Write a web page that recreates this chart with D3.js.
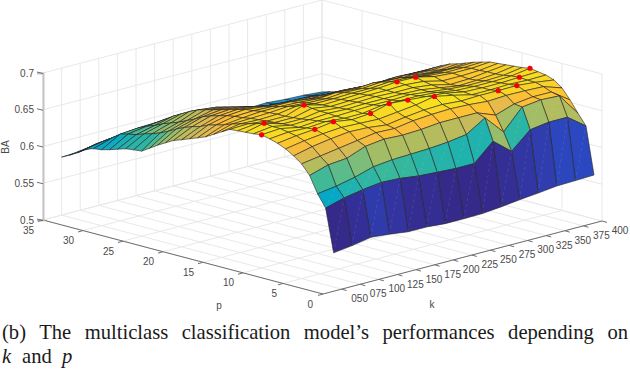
<!DOCTYPE html>
<html>
<head>
<meta charset="utf-8">
<script src="https://cdnjs.cloudflare.com/ajax/libs/d3/7.8.5/d3.min.js"></script>
<style>
  html, body { margin: 0; padding: 0; background: #fff; }
  svg { display: block; }
  text { font-family: "Liberation Sans", Arial, sans-serif; font-size: 10px; fill: #4a4a4a; }
  .caption { font-family: "Liberation Serif", "Times New Roman", serif; font-size: 20.6px; fill: #1a1a1a; }
  .grid { stroke: #e8e8e8; stroke-width: 1; fill: none; }
  .axisline { stroke: #6e6e6e; stroke-width: 1; }
</style>
</head>
<body>
<script>
const kValues = [50, 75, 100, 125, 150, 175, 200, 225, 250, 275, 300, 325, 350, 375, 400];
const pValues = d3.range(1, 36);
const kLabels = ["050", "075", "100", "125", "150", "175", "200", "225", "250", "275", "300", "325", "350", "375", "400"];
const pTicks = [0, 5, 10, 15, 20, 25, 30, 35];
const zTicks = [0.5, 0.55, 0.6, 0.65, 0.7];

// BA per row p=1..35, one value per k
const ba = [
  [.5465,.5497,.5544,.5521,.5486,.5486,.5465,.5465,.547,.5494,.5526,.555,.558,.5587,.5597],
  [.6045,.6117,.6163,.6196,.6184,.6151,.6135,.6121,.6122,.6358,.6155,.6382,.642,.642,.6235],
  [.6211,.6248,.6303,.638,.6408,.6418,.6429,.645,.6488,.6648,.639,.6663,.6695,.6682,.638],
  [.6431,.6509,.6533,.6629,.6661,.6648,.666,.6686,.6687,.6687,.659,.6676,.6707,.6705,.6532],
  [.6561,.66,.664,.668,.672,.671,.675,.677,.678,.677,.6749,.6763,.676,.675,.6667],
  [.6641,.67,.674,.677,.676,.673,.677,.68,.681,.679,.68,.6799,.6803,.678,.6746],
  [.6707,.675,.678,.68,.679,.678,.681,.684,.689,.684,.678,.678,.679,.678,.6785],
  [.6754,.679,.6812,.6849,.681,.6829,.6897,.6879,.686,.684,.679,.678,.678,.6792,.6801],
  [.6786,.681,.68,.682,.68,.68,.684,.684,.684,.682,.678,.677,.677,.678,.6819],
  [.6812,.683,.678,.68,.68,.681,.682,.682,.683,.68,.677,.675,.675,.676,.68],
  [.6797,.683,.678,.679,.681,.68,.681,.681,.681,.68,.676,.672,.673,.675,.679],
  [.6789,.6846,.677,.677,.681,.679,.68,.681,.68,.68,.677,.671,.672,.675,.678],
  [.6781,.681,.676,.676,.682,.678,.679,.68,.68,.681,.679,.673,.673,.674,.677],
  [.677,.678,.675,.675,.6837,.677,.678,.679,.68,.6822,.6818,.676,.674,.674,.676],
  [.6709,.675,.674,.675,.679,.676,.676,.677,.677,.679,.678,.674,.672,.672,.673],
  [.6646,.672,.673,.674,.676,.674,.673,.675,.674,.676,.675,.67,.669,.669,.67],
  [.6584,.668,.671,.673,.673,.672,.67,.672,.67,.672,.67,.666,.665,.664,.666],
  [.6541,.665,.67,.671,.67,.67,.667,.665,.663,.665,.665,.662,.661,.66,.662],
  [.65,.662,.668,.67,.667,.665,.661,.662,.66,.66,.658,.656,.658,.657,.659],
  [.6457,.657,.665,.667,.664,.66,.656,.658,.655,.655,.653,.651,.654,.653,.654],
  [.6419,.654,.662,.664,.661,.656,.652,.653,.65,.65,.648,.646,.649,.648,.648],
  [.6359,.65,.658,.661,.658,.652,.648,.648,.645,.644,.642,.64,.643,.642,.642],
  [.6297,.645,.652,.658,.655,.648,.644,.642,.639,.637,.634,.632,.636,.635,.636],
  [.6227,.639,.647,.655,.652,.645,.64,.636,.633,.629,.626,.624,.63,.63,.63],
  [.6159,.634,.642,.652,.649,.642,.636,.63,.626,.622,.619,.616,.62,.622,.62],
  [.6148,.63,.638,.647,.644,.638,.632,.625,.621,.617,.614,.611,.614,.616,.614],
  [.6133,.627,.634,.641,.639,.634,.627,.62,.616,.612,.61,.607,.609,.61,.609],
  [.6098,.623,.629,.635,.633,.63,.622,.615,.611,.608,.606,.603,.605,.605,.604],
  [.6063,.621,.625,.628,.627,.626,.617,.61,.606,.603,.602,.6,.6,.6,.6],
  [.6034,.618,.62,.621,.62,.622,.612,.606,.6,.598,.597,.596,.596,.596,.595],
  [.6019,.61,.613,.614,.613,.614,.605,.6,.595,.593,.592,.592,.591,.591,.59],
  [.5984,.603,.606,.607,.606,.606,.598,.594,.59,.588,.587,.587,.586,.586,.585],
  [.5907,.596,.599,.6,.599,.598,.592,.589,.586,.584,.583,.583,.582,.582,.581],
  [.5845,.588,.59,.591,.592,.591,.587,.584,.582,.581,.581,.581,.579,.579,.578],
  [.579,.58,.581,.583,.585,.584,.583,.581,.58,.579,.579,.58,.578,.577,.575]
];

// best p for each k (red dots)
const bestP = [10, 12, 8, 8, 14, 8, 8, 8, 7, 14, 14, 6, 6, 8, 9];

const colorStops = [.5465, .552, .56, .57, .58, .6045, .6117, .62, .628, .64, .655, .665, .672, .678, .684, .69];
const colorValues = ["#35298a", "#33349f", "#2a4cc8", "#1d78d8", "#1495d2", "#07a8c6", "#1fb2ae", "#3ab89a", "#72bd80", "#abbd60", "#d8ba55", "#fbbc3a", "#fcc82f", "#f8da22", "#f8e818", "#f8f40f"];

const width = 630, height = 370;
const svg = d3.select("body").append("svg").attr("width", width).attr("height", height);

// the view is orthographic, so each data axis adds its own screen offset
const kToX = d3.scaleLinear().domain([25, 400]).range([323, 602]);
const kToY = d3.scaleLinear().domain([25, 400]).range([294, 221]);
const pToX = d3.scaleLinear().domain([0, 35]).range([0, -280]);
const pToY = d3.scaleLinear().domain([0, 35]).range([0, -74]);
const zToY = d3.scaleLinear().domain([0.5, 0.7]).range([0, -147]);
const color = d3.scaleLinear().domain(colorStops).range(colorValues).clamp(true);

const px = (p, k) => kToX(k) + pToX(p);
const py = (p, k, z) => kToY(k) + pToY(p) + zToY(z);
const line = d3.line();

function seg(a, b) {
  return line([[px(a[0], a[1]), py(a[0], a[1], a[2])], [px(b[0], b[1]), py(b[0], b[1], b[2])]]);
}

// grid on the floor and the two back walls
const gridG = svg.append("g");
const kGrid = [25].concat(kValues);
kGrid.forEach(k => {
  gridG.append("path").attr("class", "grid").attr("d", seg([0, k, .5], [35, k, .5]));
  gridG.append("path").attr("class", "grid").attr("d", seg([35, k, .5], [35, k, .7]));
});
pTicks.forEach(p => {
  gridG.append("path").attr("class", "grid").attr("d", seg([p, 25, .5], [p, 400, .5]));
  gridG.append("path").attr("class", "grid").attr("d", seg([p, 400, .5], [p, 400, .7]));
});
zTicks.forEach(z => {
  gridG.append("path").attr("class", "grid").attr("d", seg([35, 25, z], [35, 400, z]));
  gridG.append("path").attr("class", "grid").attr("d", seg([35, 400, z], [0, 400, z]));
});

// axes
svg.append("path").attr("class", "axisline").attr("d", seg([35, 25, .5], [0, 25, .5]));
svg.append("path").attr("class", "axisline").attr("d", seg([0, 25, .5], [0, 400, .5]));

const zAxisScale = d3.scaleLinear().domain([0.5, 0.7]).range([py(35, 25, .5), py(35, 25, .7)]);
const zAxis = d3.axisLeft(zAxisScale).tickValues(zTicks).tickFormat(d => d3.format("")(+d.toFixed(2))).tickSize(6).tickPadding(3);
const zAxisG = svg.append("g").attr("transform", `translate(${px(35, 25)},0)`).call(zAxis);
zAxisG.select(".domain").attr("stroke", "#c4c4c4").attr("stroke-width", 2);
zAxisG.selectAll(".tick line").attr("stroke", "#6e6e6e").attr("y2", -1.5);
zAxisG.attr("font-size", null).attr("font-family", null);
zAxisG.selectAll(".tick text").attr("fill", null);

const pTickG = svg.append("g").selectAll("g").data(pTicks).enter().append("g")
    .attr("transform", d => `translate(${px(d, 25)},${py(d, 25, .5)})`);
pTickG.append("line").attr("class", "axisline").attr("x2", -5).attr("y2", 1.4);
pTickG.append("text").attr("text-anchor", "end").attr("x", d => d === 0 ? -10 : (d === 5 ? -6 : -9)).attr("y", 13.5).text(d => d);

const kTickG = svg.append("g").selectAll("g").data(kValues).enter().append("g")
    .attr("transform", d => `translate(${px(0, d)},${py(0, d, .5)})`);
kTickG.append("line").attr("class", "axisline").attr("x2", 5).attr("y2", 1.4);
kTickG.append("text").attr("text-anchor", "middle").attr("x", 18).attr("y", 13).text((d, i) => kLabels[i]);

svg.append("text").attr("transform", "translate(9,147) rotate(-90)").attr("text-anchor", "middle").text("BA");
svg.append("text").attr("x", 219).attr("y", 309).attr("text-anchor", "middle").text("p");
svg.append("text").attr("x", 432).attr("y", 308).attr("text-anchor", "middle").text("k");

// surface, far faces first
const faces = [];
for (let r = ba.length - 2; r >= 0; r--) {
  for (let c = kValues.length - 2; c >= 0; c--) {
    faces.push({r: r, c: c});
  }
}
function corner(r, c) {
  return [px(pValues[r], kValues[c]), py(pValues[r], kValues[c], ba[r][c])];
}
svg.append("g").selectAll("path").data(faces).enter().append("path")
    .attr("d", d => line([corner(d.r, d.c), corner(d.r, d.c + 1), corner(d.r + 1, d.c + 1), corner(d.r + 1, d.c)]) + "Z")
    .attr("fill", d => color(ba[d.r][d.c]))
    .attr("stroke", "#222")
    .attr("stroke-width", 0.6)
    .attr("stroke-linejoin", "round");

// faint seam where the renderer split the big front quads in two
svg.append("g").selectAll("path").data(faces.filter(d => d.r < 2)).enter().append("path")
    .attr("d", d => line([corner(d.r, d.c), corner(d.r + 1, d.c + 1)]))
    .attr("stroke", "#fff")
    .attr("stroke-opacity", 0.12)
    .attr("stroke-width", 0.8)
    .attr("stroke-dasharray", "3 3")
    .attr("fill", "none");

// best p per k
svg.append("g").selectAll("circle").data(bestP).enter().append("circle")
    .attr("cx", (d, i) => px(d, kValues[i]))
    .attr("cy", (d, i) => py(d, kValues[i], ba[d - 1][i]))
    .attr("r", 2.6)
    .attr("fill", "#f5000a");

// caption, spread to the full column like the justified original
const line1 = svg.append("text").attr("class", "caption").attr("x", 2).attr("y", 338.5)
    .text("(b) The multiclass classification model\u2019s performances depending on");
const spare = 626 - line1.node().getComputedTextLength();
line1.attr("word-spacing", Math.max(0, spare / 7));
const line2 = svg.append("text").attr("class", "caption").attr("y", 363);
line2.append("tspan").attr("x", 2).attr("font-style", "italic").text("k");
line2.append("tspan").attr("x", 22).text("and");
line2.append("tspan").attr("x", 62).attr("font-style", "italic").text("p");
</script>
</body>
</html>
